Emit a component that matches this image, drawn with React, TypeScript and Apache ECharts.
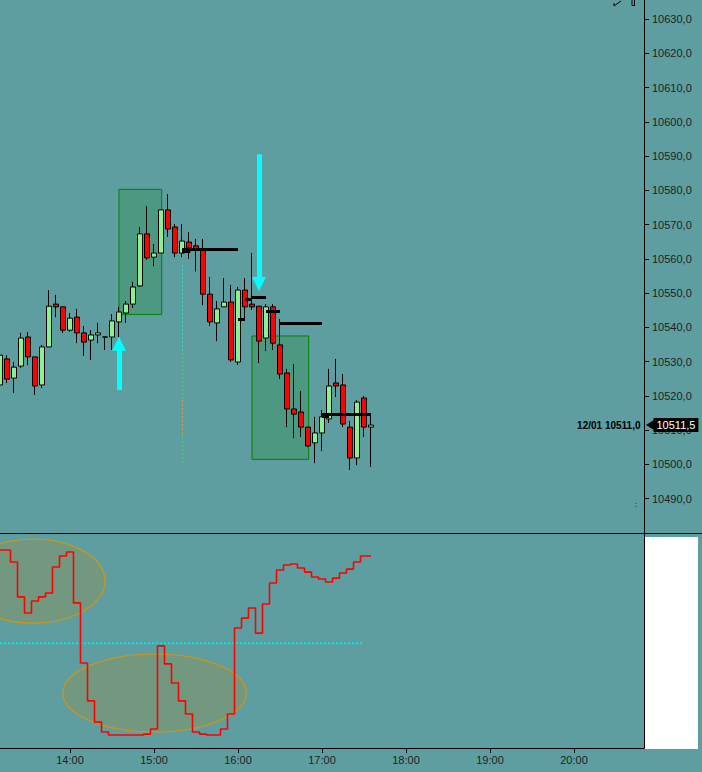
import React, { useEffect, useRef } from "react";
import * as echarts from "echarts";

const BG = "#5F9EA0";
const FONT = "'Liberation Sans', Arial, sans-serif";

// ---- price candles (5 min) ----
const CANDLE_TIMES = [
  "13:10", "13:15", "13:20", "13:25", "13:30", "13:35", "13:40", "13:45", "13:50", "13:55",
  "14:00", "14:05", "14:10", "14:15", "14:20", "14:25", "14:30", "14:35", "14:40", "14:45",
  "14:50", "14:55", "15:00", "15:05", "15:10", "15:15", "15:20", "15:25", "15:30", "15:35",
  "15:40", "15:45", "15:50", "15:55", "16:00", "16:05", "16:10", "16:15", "16:20", "16:25",
  "16:30", "16:35", "16:40", "16:45", "16:50", "16:55", "17:00", "17:05", "17:10", "17:15",
  "17:20", "17:25", "17:30", "17:35",
];
const OPEN = [
  10523.2, 10530.8, 10525.2, 10528.7, 10537.2, 10531.4, 10523.2, 10534.3, 10546.8, 10546.0,
  10539.2, 10543.0, 10538.4, 10536.3, 10537.8, 10537.2, 10537.2, 10541.6, 10544.2, 10546.8,
  10552.1, 10567.3, 10560.5, 10561.7, 10574.3, 10569.3, 10561.7, 10564.9, 10563.8, 10562.6,
  10549.7, 10541.3, 10546.0, 10547.4, 10529.9, 10550.9, 10546.8, 10546.2, 10536.9, 10546.0,
  10534.9, 10526.7, 10516.2, 10515.3, 10510.9, 10506.3, 10509.2, 10513.3, 10523.8, 10523.2,
  10510.9, 10501.9, 10519.4, 10510.9,
];
const CLOSE = [
  10531.9, 10524.9, 10528.4, 10536.9, 10531.4, 10522.9, 10534.3, 10546.2, 10546.0, 10539.2,
  10542.7, 10538.4, 10535.7, 10537.8, 10538.4, 10537.2, 10541.9, 10544.5, 10546.8, 10551.8,
  10567.3, 10560.3, 10561.7, 10574.3, 10568.7, 10561.7, 10565.2, 10563.2, 10562.9, 10549.7,
  10541.6, 10545.4, 10547.4, 10530.5, 10550.9, 10546.0, 10546.0, 10536.0, 10546.0, 10535.4,
  10526.4, 10516.2, 10514.7, 10510.9, 10505.4, 10509.2, 10513.9, 10522.9, 10522.9, 10511.8,
  10501.9, 10518.2, 10510.9, 10511.5,
];
const LOW = [
  10522.6, 10523.8, 10520.9, 10528.2, 10529.0, 10520.3, 10522.3, 10534.3, 10543.0, 10538.4,
  10538.7, 10535.4, 10531.7, 10530.5, 10535.4, 10533.4, 10533.4, 10537.2, 10541.3, 10545.7,
  10551.8, 10559.7, 10557.9, 10561.7, 10566.4, 10560.5, 10560.5, 10560.0, 10556.3, 10546.5,
  10540.4, 10536.0, 10546.0, 10529.9, 10529.0, 10542.7, 10545.1, 10529.6, 10533.1, 10533.4,
  10524.9, 10510.9, 10507.7, 10508.0, 10505.1, 10500.4, 10503.9, 10512.1, 10519.7, 10510.9,
  10498.4, 10499.8, 10508.0, 10499.3,
];
const HIGH = [
  10534.3, 10531.9, 10529.9, 10538.4, 10538.7, 10531.4, 10534.9, 10550.9, 10549.5, 10546.0,
  10544.2, 10545.4, 10540.4, 10539.2, 10541.3, 10537.2, 10543.9, 10546.0, 10547.7, 10553.3,
  10569.3, 10575.4, 10564.3, 10574.3, 10578.9, 10570.2, 10570.2, 10567.8, 10565.8, 10565.8,
  10554.7, 10547.7, 10554.4, 10552.4, 10551.8, 10554.4, 10561.7, 10546.2, 10546.8, 10546.8,
  10542.5, 10527.9, 10529.3, 10521.4, 10510.9, 10513.9, 10515.9, 10527.9, 10530.8, 10526.4,
  10512.7, 10518.8, 10520.0, 10514.4,
];

// ---- lower oscillator ----
const INDICATOR = [
  92.5, 92.5, 86.9, 70.6, 63.1, 68.7, 70.6, 72.4, 84.6, 89.7,
  91.6, 67.8, 39.7, 22.0, 12.1, 7.5, 6.1, 6.1, 6.1, 6.1,
  6.1, 6.5, 8.9, 47.7, 39.3, 30.4, 22.0, 15.9, 7.5, 6.5,
  6.1, 6.1, 8.9, 15.9, 56.1, 60.7, 65.4, 53.7, 67.3, 77.1,
  83.2, 85.5, 86.0, 84.1, 82.2, 79.9, 79.0, 77.6, 79.4, 81.8,
  83.6, 86.9, 89.7, 89.7,
];
const THRESHOLD = 49;
const THRESHOLD_FROM = "13:10";
const THRESHOLD_TO = "17:30";

// ---- axes ----
const X_MIN = "13:10";
const X_MAX = "20:50";
const HOUR_TICKS = ["14:00", "15:00", "16:00", "17:00", "18:00", "19:00", "20:00"];
const PRICE_TICKS = [10490, 10500, 10510, 10520, 10530, 10540, 10550, 10560, 10570, 10580, 10590, 10600, 10610, 10620, 10630];
const PRICE_MIN = 10480;
const PRICE_MAX = 10635.55;

// ---- annotations ----
const BOX_START = ["14:35", "16:10"];
const BOX_END = ["15:05.5", "16:50.5"];
const BOX_HIGH = [10580.3, 10537.5];
const BOX_LOW = [10543.8, 10501.5];

const LEVEL_START = ["15:20", "15:20", "16:00", "16:05", "16:10", "16:20", "16:30", "17:00", "17:00"];
const LEVEL_END = ["16:00", "15:26", "16:05", "16:10", "16:20", "16:30", "17:00", "17:05", "17:35"];
const LEVEL_PRICE = [10562.9, 10562.2, 10542.4, 10548.3, 10548.8, 10544.7, 10541.2, 10514.2, 10514.6];

const ARROW_TIME = ["14:35", "16:15"];
const ARROW_FROM = [10521.7, 10590.5];
const ARROW_TO = [10535.2, 10552.7];

const VLINE_TIME = "15:20";
const VLINE_TOP = [10558.2, 10532.5, 10518.8, 10509.2];
const VLINE_BOTTOM = [10532.5, 10518.8, 10509.2, 10499.8];
const VLINE_COLOR = ["#3FD8D0", "#4CC87A", "#D89A48", "#4CC87A"];

const ELLIPSE_TIME = ["13:33.6", "15:00.4"];
const ELLIPSE_VALUE = [78.0, 25.7];
const ELLIPSE_HALF_MIN = [51.4, 65.4];
const ELLIPSE_HALF_VALUE = [19.6, 18.2];

const LAST_PRICE = 10511.5;
const REF_LABEL = "12/01 10511,0";

const toMin = (s: string) => {
  const [h, m] = s.split(":");
  return Number(h) * 60 + parseFloat(m);
};
const fmtTime = (v: number) => {
  const h = Math.floor(v / 60);
  const m = Math.round(v - h * 60);
  return `${String(h).padStart(2, "0")}:${String(m).padStart(2, "0")}`;
};
const fmtPrice = (v: number) => v.toFixed(1).replace(".", ",");

export default function App() {
  const ref = useRef<HTMLDivElement>(null);
  useEffect(() => {
    if (!ref.current) return;
    const chart = echarts.init(ref.current, null, { renderer: "svg" });
    const xMin = toMin(X_MIN);
    const xMax = toMin(X_MAX);

    const candles = CANDLE_TIMES.map((t, i) => [toMin(t), OPEN[i], CLOSE[i], LOW[i], HIGH[i]]);
    const ind = CANDLE_TIMES.map((t, i) => [toMin(t), INDICATOR[i]]);

    const boxes = BOX_START.map((s, i) => [
      { coord: [toMin(s), BOX_HIGH[i]] },
      { coord: [toMin(BOX_END[i]), BOX_LOW[i]] },
    ]);
    const levels = LEVEL_START.map((s, i) => [
      { coord: [toMin(s), LEVEL_PRICE[i]] },
      { coord: [toMin(LEVEL_END[i]), LEVEL_PRICE[i]] },
    ]);
    const arrowStyle = { color: "#00FFFF", width: 5, type: "solid" as const, opacity: 1 };
    const arrows = ARROW_TIME.map((t, i) => [
      { coord: [toMin(t), ARROW_FROM[i]], symbol: "none", lineStyle: arrowStyle },
      {
        coord: [toMin(t), ARROW_TO[i]],
        symbol: "triangle",
        symbolSize: 14,
        lineStyle: arrowStyle,
        itemStyle: { color: "#00FFFF" },
      },
    ]);
    const vlines = VLINE_TOP.map((top, i) => {
      const st = { color: VLINE_COLOR[i], width: 1, type: [2, 2] as any, opacity: 1 };
      return [
        { coord: [toMin(VLINE_TIME), top], lineStyle: st },
        { coord: [toMin(VLINE_TIME), VLINE_BOTTOM[i]], lineStyle: st },
      ];
    });
    const ellipses = ELLIPSE_TIME.map((t, i) => [toMin(t), ELLIPSE_VALUE[i], ELLIPSE_HALF_MIN[i], ELLIPSE_HALF_VALUE[i]]);

    const hourTicks = HOUR_TICKS.map(toMin);

    chart.setOption({
      animation: false,
      backgroundColor: BG,
      textStyle: { fontFamily: FONT },
      grid: [
        { left: 0, right: 58, top: 0, height: 533 },
        { left: 0, right: 58, top: 534, height: 214 },
      ],
      xAxis: [
        { type: "value", gridIndex: 0, min: xMin, max: xMax, show: false },
        {
          type: "value",
          gridIndex: 1,
          min: xMin,
          max: xMax,
          splitLine: { show: false },
          axisLine: { show: true, onZero: false, lineStyle: { color: "#000", width: 1 } },
          axisTick: { show: true, customValues: hourTicks, length: 5, lineStyle: { color: "#000" } },
          axisLabel: {
            customValues: hourTicks,
            formatter: (v: number) => fmtTime(v),
            color: "#1e1e1e",
            fontSize: 11,
            fontFamily: FONT,
            margin: 6,
          },
        },
      ],
      yAxis: [
        {
          type: "value",
          gridIndex: 0,
          position: "right",
          min: PRICE_MIN,
          max: PRICE_MAX,
          splitLine: { show: false },
          axisLine: { show: true, onZero: false, lineStyle: { color: "#000", width: 1 } },
          axisTick: { show: true, customValues: PRICE_TICKS, length: 5, lineStyle: { color: "#000" } },
          axisLabel: {
            customValues: PRICE_TICKS,
            formatter: (v: number) => fmtPrice(v),
            color: "#1e1e1e",
            fontSize: 11,
            fontFamily: FONT,
            margin: 8,
          },
        },
        {
          type: "value",
          gridIndex: 1,
          position: "right",
          min: 0,
          max: 100,
          splitLine: { show: false },
          axisLine: { show: true, onZero: false, lineStyle: { color: "#000", width: 1 } },
          axisTick: { show: false },
          axisLabel: { show: false },
        },
      ],
      series: [
        {
          type: "candlestick",
          xAxisIndex: 0,
          yAxisIndex: 0,
          data: candles,
          barWidth: 5.5,
          z: 2,
          itemStyle: {
            color: "#90EE90",
            color0: "#FF0000",
            borderColor: "#000",
            borderColor0: "#000",
            borderColorDoji: "#000",
            borderWidth: 1,
          },
        },
        {
          type: "line",
          xAxisIndex: 0,
          yAxisIndex: 0,
          data: [],
          z: 5,
          silent: true,
          markArea: {
            silent: true,
            itemStyle: { color: "rgba(0,128,0,0.2)", borderColor: "#008000", borderWidth: 1 },
            label: { show: false },
            data: boxes,
          },
        },
        {
          type: "line",
          xAxisIndex: 0,
          yAxisIndex: 0,
          data: [],
          z: 6,
          silent: true,
          markLine: {
            silent: true,
            symbol: "none",
            label: { show: false },
            lineStyle: { color: "#000", width: 3, type: "solid", opacity: 1 },
            emphasis: { disabled: true },
            data: [...levels, ...vlines],
          },
        },
        {
          type: "line",
          xAxisIndex: 0,
          yAxisIndex: 0,
          data: [],
          z: 7,
          silent: true,
          markLine: {
            silent: true,
            symbol: ["none", "triangle"],
            symbolSize: [0, 14],
            label: { show: false },
            lineStyle: arrowStyle,
            emphasis: { disabled: true },
            data: arrows,
          },
          markPoint: {
            silent: true,
            data: [
              {
                coord: [xMax, LAST_PRICE],
                symbol: "triangle",
                symbolRotate: 90,
                symbolSize: [10, 8],
                symbolOffset: [6, 0],
                itemStyle: { color: "#000" },
                label: { show: false },
              },
              {
                coord: [xMax, LAST_PRICE],
                symbol: "circle",
                symbolSize: 1,
                itemStyle: { color: "rgba(0,0,0,0)" },
                label: {
                  show: true,
                  position: "right",
                  distance: 9,
                  formatter: fmtPrice(LAST_PRICE),
                  color: "#fff",
                  backgroundColor: "#000",
                  padding: [2, 3, 1, 3],
                  fontSize: 11,
                  fontFamily: FONT,
                },
              },
              {
                coord: [xMax, LAST_PRICE],
                symbol: "circle",
                symbolSize: 1,
                itemStyle: { color: "rgba(0,0,0,0)" },
                label: {
                  show: true,
                  position: "left",
                  distance: 3,
                  formatter: REF_LABEL,
                  color: "#000",
                  fontWeight: "bold",
                  fontSize: 10,
                  fontFamily: FONT,
                },
              },
            ],
          },
        },
        {
          type: "custom",
          xAxisIndex: 1,
          yAxisIndex: 1,
          z: 1,
          silent: true,
          data: ellipses,
          renderItem: (params: any, api: any) => {
            const c = api.coord([api.value(0), api.value(1)]);
            const s = api.size([api.value(2), api.value(3)]);
            return {
              type: "ellipse",
              shape: { cx: c[0], cy: c[1], rx: s[0], ry: s[1] },
              style: { fill: "rgba(184,134,11,0.22)", stroke: "#C8961E", lineWidth: 1.3 },
            };
          },
        },
        {
          type: "line",
          xAxisIndex: 1,
          yAxisIndex: 1,
          z: 2,
          silent: true,
          symbol: "none",
          showSymbol: false,
          data: [
            [toMin(THRESHOLD_FROM), THRESHOLD],
            [toMin(THRESHOLD_TO), THRESHOLD],
          ],
          lineStyle: { color: "#00E5EE", width: 2, type: [2, 2] },
        },
        {
          type: "line",
          xAxisIndex: 1,
          yAxisIndex: 1,
          z: 3,
          silent: true,
          step: "middle",
          symbol: "none",
          showSymbol: false,
          data: ind,
          lineStyle: { color: "#FF0000", width: 1.6 },
        },
      ],
      graphic: [
        { type: "rect", z: 50, shape: { x: 645, y: 537, width: 53, height: 212 }, style: { fill: "#fff" } },
        { type: "line", z: 60, shape: { x1: 0, y1: 533.5, x2: 702, y2: 533.5 }, style: { stroke: "#000", lineWidth: 1 } },
        { type: "polyline", z: 60, shape: { points: [[614, 3], [614, 6], [621, 1]] }, style: { stroke: "#000", lineWidth: 1, fill: null } },
        { type: "rect", z: 60, shape: { x: 632, y: -1, width: 2.5, height: 6.5 }, style: { stroke: "#000", lineWidth: 1, fill: null } },
        { type: "text", z: 60, x: 635, y: 500, style: { text: ":", fontSize: 8, fill: "#000", fontFamily: FONT } },
      ],
    });
    return () => chart.dispose();
  }, []);
  return (
    <div
      ref={ref}
      style={{ position: "fixed", left: 0, top: 0, width: 702, height: 772, background: BG }}
    />
  );
}
